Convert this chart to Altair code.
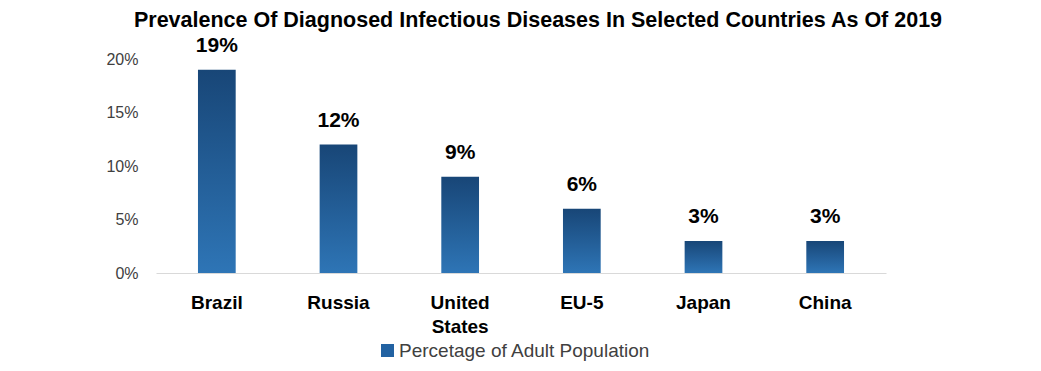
import altair as alt
import pandas as pd

countries = ["Brazil", "Russia", "United States", "EU-5", "Japan", "China"]
values = [0.19, 0.12, 0.09, 0.06, 0.03, 0.03]
labels = ["19%", "12%", "9%", "6%", "3%", "3%"]
series_name = "Percetage of Adult Population"
y_ticks = [0, 0.05, 0.10, 0.15, 0.20]

df = pd.DataFrame({"country": countries, "value": values, "label": labels, "series": series_name})

FONT = "Liberation Sans"

grad = alt.LinearGradient(
    gradient="linear", x1=0, y1=0, x2=0, y2=1,
    stops=[alt.GradientStop(color="#184677", offset=0),
           alt.GradientStop(color="#2e75b6", offset=1)],
)

x = alt.X(
    "country:N", sort=None,
    scale=alt.Scale(paddingInner=0.69, paddingOuter=0.345),
    axis=alt.Axis(
        title=None, labelAngle=0, labelFont=FONT, labelFontWeight="bold",
        labelFontSize=19, labelColor="#000000", labelPadding=20, ticks=False,
        domainColor="#d9d9d9", domainWidth=1,
        labelExpr="datum.label == 'United States' ? ['United', 'States'] : datum.label",
        labelLineHeight=24,
    ),
)
y = alt.Y(
    "value:Q",
    scale=alt.Scale(domain=[0, 0.2]),
    axis=alt.Axis(
        title=None, values=y_ticks, format=".0%", domain=False, ticks=False,
        grid=False, labelFont=FONT, labelFontSize=16, labelColor="#404040",
        labelPadding=18,
    ),
)

bars = alt.Chart(df).mark_bar(color=grad).encode(x=x, y=y)

text = alt.Chart(df).mark_text(
    baseline="bottom", dy=-14, fontSize=21, fontWeight="bold", font=FONT, color="#000000"
).encode(x=x, y=y, text="label:N")

legend_layer = alt.Chart(df).transform_filter("datum.value < 0").mark_bar().encode(
    x=x, y=y,
    color=alt.Color(
        "series:N",
        scale=alt.Scale(domain=[series_name], range=["#2262a2"]),
        legend=alt.Legend(
            title=None, orient="none", legendX=222, legendY=282,
            symbolType="square", symbolSize=169, symbolStrokeWidth=0,
            labelFont=FONT, labelFontSize=19, labelColor="#404040", labelOffset=2,
            labelLimit=400,
        ),
    ),
)

chart = alt.layer(bars, text, legend_layer).properties(
    width=730, height=214,
    title=alt.TitleParams(
        "Prevalence Of Diagnosed Infectious Diseases In Selected Countries As Of 2019",
        font=FONT, fontSize=21.5, fontWeight="bold", color="#000000",
        anchor="middle", dx=17, offset=3,
    ),
    autosize=alt.AutoSizeParams(type="none"),
    padding={"left": 148, "top": 51, "right": 140, "bottom": 90},
).configure_view(stroke=None, strokeWidth=0)

chart.save("out.html", embed_options={"renderer": "svg", "actions": False})
